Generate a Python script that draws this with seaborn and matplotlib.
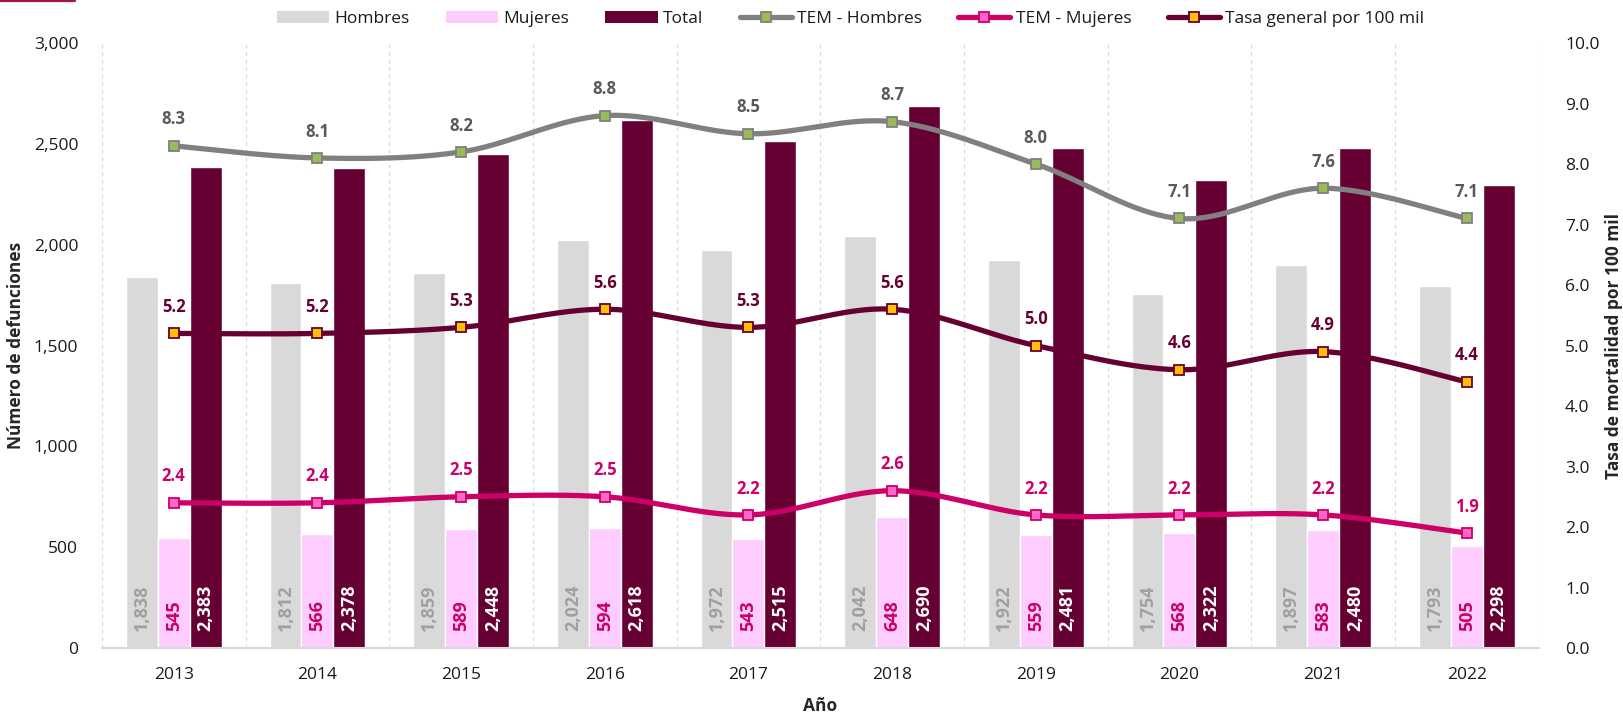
import numpy as np
import pandas as pd
import matplotlib
matplotlib.use("Agg")
import matplotlib.pyplot as plt
from matplotlib.lines import Line2D
from matplotlib.patches import Patch
from matplotlib.ticker import FuncFormatter, MultipleLocator
import seaborn as sns

# ---- data -------------------------------------------------------------
years = ["2013", "2014", "2015", "2016", "2017", "2018", "2019", "2020", "2021", "2022"]
hombres = [1838, 1812, 1859, 2024, 1972, 2042, 1922, 1754, 1897, 1793]
mujeres = [545, 566, 589, 594, 543, 648, 559, 568, 583, 505]
total = [2383, 2378, 2448, 2618, 2515, 2690, 2481, 2322, 2480, 2298]
tem_hombres = [8.3, 8.1, 8.2, 8.8, 8.5, 8.7, 8.0, 7.1, 7.6, 7.1]
tem_mujeres = [2.4, 2.4, 2.5, 2.5, 2.2, 2.6, 2.2, 2.2, 2.2, 1.9]
tasa_general = [5.2, 5.2, 5.3, 5.6, 5.3, 5.6, 5.0, 4.6, 4.9, 4.4]

bar_series = ["Hombres", "Mujeres", "Total"]
bar_colors = ["#D9D9D9", "#FFCCFF", "#660033"]
bar_label_colors = ["#A0A0A0", "#CC0066", "#FFFFFF"]

# ---- style ------------------------------------------------------------
sns.set_theme(style="white")
plt.rcParams["font.family"] = ["Open Sans", "DejaVu Sans"]
plt.rcParams["text.color"] = "#1A1A1A"
FS = 12.5

df = pd.DataFrame({
    "Año": years * 3,
    "valor": hombres + mujeres + total,
    "serie": [s for s in bar_series for _ in years],
})

fig = plt.figure(figsize=(16.23, 7.17), dpi=100)
ax = fig.add_axes([0.0628, 0.0962, 0.8852, 0.8438])

sns.barplot(data=df, x="Año", y="valor", hue="serie", order=years,
            hue_order=bar_series, palette=bar_colors, saturation=1,
            width=0.667, gap=0, errorbar=None, legend=False, ax=ax, zorder=2)

# value labels at the base of each bar, rotated
for cont, col in zip(ax.containers, bar_label_colors):
    for patch in cont:
        h = patch.get_height()
        ax.annotate(f"{h:,.0f}", (patch.get_x() + patch.get_width() / 2, 0),
                    xytext=(0, 12), textcoords="offset points", rotation=90,
                    ha="center", va="bottom", fontsize=13, fontweight="bold",
                    color=col, zorder=5)

ax.set_xlim(-0.5, len(years) - 0.5)
ax.set_ylim(0, 3000)
ax.yaxis.set_major_locator(MultipleLocator(500))
ax.yaxis.set_major_formatter(FuncFormatter(lambda v, p: f"{v:,.0f}"))
ax.set_xticks(np.arange(-0.5, len(years), 1.0), minor=True)
ax.grid(which="minor", axis="x", color="#D9D9D9", linestyle=(0, (3, 3)), linewidth=0.9)
ax.grid(which="major", visible=False)
ax.set_axisbelow(True)
for s in ["top", "left", "right"]:
    ax.spines[s].set_visible(False)
ax.spines["bottom"].set_color("#D9D9D9")
ax.spines["bottom"].set_linewidth(1.5)
ax.tick_params(axis="x", which="both", length=0, pad=14, labelsize=FS, colors="#1A1A1A")
ax.tick_params(axis="y", length=0, pad=17, labelsize=FS, colors="#1A1A1A")
ax.set_xlabel("Año", fontsize=FS, fontweight="bold", labelpad=10)
ax.set_ylabel("Número de defunciones", fontsize=FS, fontweight="bold", labelpad=6)

# ---- rate lines on secondary axis -------------------------------------
ax2 = ax.twinx()
ax2.set_ylim(0, 10)
ax2.yaxis.set_major_locator(MultipleLocator(1.0))
ax2.yaxis.set_major_formatter(FuncFormatter(lambda v, p: f"{v:.1f}"))
for s in ax2.spines.values():
    s.set_visible(False)
ax2.tick_params(axis="y", length=0, pad=19, labelsize=FS, colors="#1A1A1A")
ax2.set_ylabel("Tasa de mortalidad por 100 mil", fontsize=FS, fontweight="bold",
               labelpad=4)
ax2.grid(False)


def smooth_curve(xs, ys, n=40):
    """Bezier smoothing through the points (spreadsheet-style smoothed line)."""
    pts = np.column_stack([xs, ys]).astype(float)
    ext = np.vstack([pts[0], pts, pts[-1]])
    t = np.linspace(0, 1, n)[:, None]
    segs = []
    for i in range(len(pts) - 1):
        p0, p1, p2, p3 = ext[i], ext[i + 1], ext[i + 2], ext[i + 3]
        c1 = p1 + (p2 - p0) / 6
        c2 = p2 - (p3 - p1) / 6
        seg = ((1 - t) ** 3) * p1 + 3 * ((1 - t) ** 2) * t * c1 \
            + 3 * (1 - t) * (t ** 2) * c2 + (t ** 3) * p2
        segs.append(seg if i == 0 else seg[1:])
    return np.vstack(segs)


xpos = np.arange(len(years))
line_specs = [
    ("TEM - Hombres", tem_hombres, "#808080", "#9BBB59", "#808080", "#595959"),
    ("TEM - Mujeres", tem_mujeres, "#CC0066", "#FF66CC", "#CC0066", "#CC0066"),
    ("Tasa general por 100 mil", tasa_general, "#660033", "#FFC000", "#660033", "#660033"),
]
line_handles = []
for name, vals, lc, mfc, mec, tc in line_specs:
    curve = smooth_curve(xpos, vals)
    ax2.plot(curve[:, 0], curve[:, 1], color=lc, lw=3.8, solid_capstyle="round", zorder=3)
    ax2.plot(xpos, vals, linestyle="none", marker="s", markersize=6.5,
             markerfacecolor=mfc, markeredgecolor=mec, markeredgewidth=1.3, zorder=4)
    for xv, yv in zip(xpos, vals):
        ax2.annotate(f"{yv:.1f}", (xv, yv), xytext=(0, 19), textcoords="offset points",
                     ha="center", va="center", fontsize=12, fontweight="bold", color=tc)
    line_handles.append(Line2D([], [], color=lc, lw=3.8, marker="s", markersize=6.5,
                               markerfacecolor=mfc, markeredgecolor=mec,
                               markeredgewidth=1.3, label=name))

bar_handles = [Patch(facecolor=c, edgecolor="none", label=s)
               for s, c in zip(bar_series, bar_colors)]
fig.legend(handles=bar_handles + line_handles, loc="center",
           bbox_to_anchor=(0.524, 0.973), ncol=6, frameon=False, fontsize=FS,
           handlelength=3.0, handletextpad=0.3, columnspacing=2.1, numpoints=1)

# thin accent line at the top-left corner
fig.add_artist(Line2D([0, 75 / 1623], [1 - 1 / 717, 1 - 1 / 717],
                      color="#A3174A", lw=1.6, transform=fig.transFigure))

fig.savefig("out.png", dpi=100)
